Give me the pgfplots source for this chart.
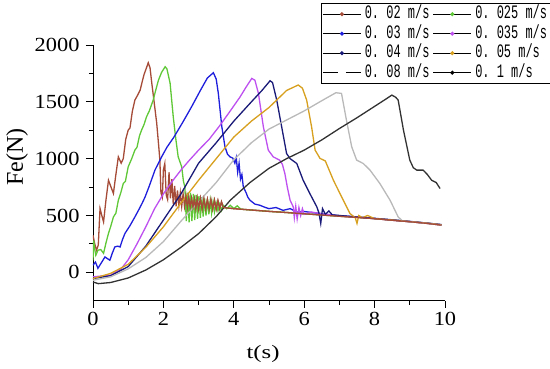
\documentclass[border=0pt]{standalone}
\usepackage{pgfplots}
\pgfplotsset{compat=1.18}
\usepackage{fontspec}
\setmainfont{Liberation Serif}
\newfontfamily\tfont{Liberation Serif}[FakeStretch=1.12]
\newfontfamily\sfontx{Liberation Serif}[FakeStretch=1.3]
\newfontfamily\lfont{Liberation Mono}[FakeStretch=0.63]
\definecolor{cA}{RGB}{165,75,55}
\definecolor{cB}{RGB}{95,200,55}
\definecolor{cC}{RGB}{30,30,220}
\definecolor{cD}{RGB}{190,80,240}
\definecolor{cE}{RGB}{25,25,120}
\definecolor{cF}{RGB}{215,160,30}
\definecolor{cG}{RGB}{185,185,185}
\definecolor{cH}{RGB}{50,50,50}
\begin{document}
\begin{tikzpicture}
\useasboundingbox (-93pt,-67.3pt) rectangle (457pt,300.7pt);
\begin{axis}[
 scale only axis, width=352pt, height=255.7pt,
 xmin=0, xmax=10, ymin=-250, ymax=2000,
 axis lines=left, axis line style={-, line width=0.8pt},
 tick align=outside,
 xtick={0,2,...,10}, minor xtick={1,3,...,9},
 ytick={0,500,...,2000}, minor ytick={250,750,...,1750},
 major tick length=7pt, minor tick length=4pt,
 tick style={black, line width=0.8pt},
 ticklabel style={font=\tfont\fontsize{20}{22}\selectfont},
 xticklabel style={yshift=-1pt},
 yticklabel style={xshift=-3pt},
 /pgf/number format/assume math mode=true,
 /pgf/number format/1000 sep={},
 xlabel={t(s)}, ylabel={Fe(N)},
 xlabel style={font=\sfontx\fontsize{19}{21}\selectfont, at={(axis description cs:0.483,0)}, anchor=center, yshift=-53pt},
 ylabel style={font=\fontsize{24}{26}\selectfont, at={(axis description cs:0,0.562)}, anchor=center, yshift=76pt},
 legend columns=2,
 legend cell align=left,
 legend style={at={(1,1)}, anchor=north east, xshift=107pt, yshift=42pt,
   font=\lfont\fontsize{19}{21}\selectfont, draw=black, line width=0.8pt,
   inner xsep=1pt, inner ysep=1pt,
   nodes={inner xsep=3.5pt, inner ysep=2.5pt, text height=12pt, text depth=2.5pt},
   /tikz/every even column/.append style={column sep=0pt}},
 every axis plot/.append style={line width=1.3pt},
]
\addplot[cA, legend image code/.code={\draw[black,line width=0.8pt] (0pt,0pt) -- (38pt,0pt); \fill[cA] (19pt,0pt) circle (1.3pt);}] coordinates {
(0,326)(0.05,250)(0.1,194)(0.15,240)(0.2,561)(0.25,500)(0.3,443)(0.37,640)(0.44,810)(0.5,760)(0.58,694)(0.65,860)(0.72,1016)(0.8,960)(0.86,1000)(0.93,1170)(1.0,1251)(1.05,1270)(1.12,1420)(1.19,1515)(1.27,1560)(1.34,1603)(1.4,1680)(1.45,1740)(1.52,1800)(1.57,1844)(1.62,1800)(1.67,1665)(1.74,1490)(1.81,1312)(1.87,1100)(1.9,987)(1.93,700)(1.97,660)(2.0,900)(2.04,957)(2.08,680)(2.12,640)(2.16,880)(2.2,650)(2.24,820)(2.28,600)(2.32,760)(2.36,580)(2.4,720)(2.44,590)(2.48,700)(2.52,580)(2.56,690)(2.6,580)(2.64,670)(2.68,570)(2.72,660)(2.76,575)(2.8,650)(2.84,575)(2.88,645)(2.92,560)(2.96,650)(3.0,560)(3.05,650)(3.1,555)(3.15,645)(3.2,555)(3.25,640)(3.3,555)(3.35,640)(3.4,555)(3.45,635)(3.5,555)(3.55,630)(3.6,560)(3.65,620)(3.7,570)(4.0,560)(4.5,548)(5.0,536)(5.5,526)(6.0,515)(6.5,504)(7.0,493)(7.5,483)(8.0,472)(8.5,458)(9.0,445)(9.5,430)(9.9,415)};
\addlegendentry{0.~02 m/s}
\addplot[cB, legend image code/.code={\draw[black,line width=0.8pt] (0pt,0pt) -- (38pt,0pt); \fill[cB] (19pt,0pt) circle (1.3pt);}] coordinates {
(0,106)(0.02,280)(0.05,200)(0.08,150)(0.14,194)(0.22,200)(0.3,167)(0.37,260)(0.44,343)(0.5,400)(0.58,487)(0.65,520)(0.72,634)(0.79,700)(0.86,781)(0.92,800)(1.0,928)(1.1,1000)(1.19,1075)(1.25,1100)(1.32,1200)(1.38,1251)(1.45,1300)(1.52,1368)(1.6,1420)(1.71,1515)(1.78,1600)(1.86,1691)(1.95,1760)(2.05,1809)(2.1,1790)(2.19,1665)(2.28,1368)(2.35,1180)(2.42,1016)(2.52,928)(2.57,800)(2.61,752)(2.65,450)(2.69,700)(2.73,440)(2.77,700)(2.81,450)(2.85,690)(2.89,460)(2.93,680)(2.97,470)(3.01,670)(3.05,480)(3.09,660)(3.13,490)(3.17,650)(3.21,500)(3.25,640)(3.29,510)(3.33,630)(3.37,520)(3.41,620)(3.45,530)(3.5,610)(3.55,540)(3.6,600)(3.65,545)(3.7,590)(3.8,560)(3.9,590)(4.0,560)(4.1,585)(4.2,555)(4.5,548)(5.0,536)(5.5,526)(6,515)(6.5,505)(7,494)(7.5,484)(8,473)(8.5,460)(9,446)(9.5,432)(9.9,418)};
\addlegendentry{0.~025 m/s}
\addplot[cC, legend image code/.code={\draw[black,line width=0.8pt] (0pt,0pt) -- (38pt,0pt); \fill[cC] (19pt,0pt) circle (1.3pt);}] coordinates {
(0,62)(0.07,90)(0.14,35)(0.25,90)(0.34,135)(0.41,120)(0.48,106)(0.55,170)(0.62,223)(0.7,230)(0.77,223)(0.84,290)(0.91,343)(1.05,410)(1.19,487)(1.3,550)(1.4,610)(1.48,663)(1.6,760)(1.76,899)(1.95,1016)(2.1,1100)(2.3,1190)(2.55,1320)(2.8,1456)(3.05,1600)(3.25,1710)(3.42,1756)(3.5,1700)(3.56,1576)(3.66,1280)(3.75,1104)(3.82,1040)(3.89,1016)(3.97,1005)(4.03,960)(4.07,1010)(4.11,880)(4.15,960)(4.19,820)(4.23,860)(4.27,752)(4.35,700)(4.4,660)(4.46,634)(4.6,600)(4.74,590)(4.9,570)(5.0,560)(5.2,570)(5.4,545)(5.6,560)(5.8,530)(6.0,535)(6.5,515)(7,498)(7.5,488)(8,475)(8.5,462)(9,448)(9.5,433)(9.9,420)};
\addlegendentry{0.~03 m/s}
\addplot[cD, legend image code/.code={\draw[black,line width=0.8pt] (0pt,0pt) -- (38pt,0pt); \fill[cD] (19pt,0pt) circle (1.3pt);}] coordinates {
(0,-40)(0.5,-25)(0.8,30)(1.0,110)(1.25,250)(1.5,400)(1.75,560)(2.0,690)(2.25,800)(2.5,900)(2.75,990)(3.0,1075)(3.3,1170)(3.6,1290)(3.9,1420)(4.18,1544)(4.35,1630)(4.51,1706)(4.6,1690)(4.7,1574)(4.84,1280)(4.98,1075)(5.12,1016)(5.3,987)(5.38,950)(5.45,870)(5.52,750)(5.6,634)(5.69,575)(5.72,480)(5.76,580)(5.8,470)(5.85,570)(5.9,500)(5.95,560)(6.0,510)(6.2,530)(6.5,515)(7,495)(7.5,485)(8,472)(8.5,458)(9,445)(9.5,430)(9.9,417)};
\addlegendentry{0.~035 m/s}
\addplot[cE, legend image code/.code={\draw[black,line width=0.8pt] (0pt,0pt) -- (38pt,0pt); \fill[cE] (19pt,0pt) circle (1.3pt);}] coordinates {
(0,-55)(0.5,-30)(1.0,50)(1.5,230)(2.0,460)(2.5,690)(3.0,960)(3.5,1140)(4.0,1330)(4.5,1500)(4.8,1600)(5.03,1685)(5.1,1670)(5.22,1515)(5.36,1280)(5.5,1045)(5.6,1000)(5.79,957)(5.97,810)(6.16,693)(6.36,575)(6.42,520)(6.47,430)(6.52,560)(6.6,510)(6.7,540)(6.8,505)(7,500)(7.5,486)(8,473)(8.5,460)(9,446)(9.5,432)(9.9,418)};
\addlegendentry{0.~04 m/s}
\addplot[cF, legend image code/.code={\draw[black,line width=0.8pt] (0pt,0pt) -- (38pt,0pt); \fill[cF] (19pt,0pt) circle (1.3pt);}] coordinates {
(0,-55)(0.5,-10)(1.0,70)(1.5,220)(2.0,400)(2.5,610)(3.0,810)(3.5,1000)(4.0,1190)(4.5,1330)(5.0,1450)(5.5,1600)(5.83,1648)(5.95,1620)(6.07,1515)(6.21,1280)(6.31,1075)(6.45,1002)(6.6,980)(6.83,810)(7.11,634)(7.3,517)(7.45,480)(7.5,430)(7.55,500)(7.65,480)(7.8,500)(8,472)(8.5,460)(9,446)(9.5,432)(9.9,418)};
\addlegendentry{0.~05 m/s}
\addplot[cG, legend image code/.code={\draw[black,line width=0.8pt] (0pt,0pt) -- (15pt,0pt) (23pt,0pt) -- (38pt,0pt);}] coordinates {
(0,-70)(0.5,-40)(1.0,30)(1.5,130)(2.0,270)(2.5,450)(3.0,620)(3.5,790)(4.0,990)(4.5,1140)(5.0,1260)(5.5,1340)(6.0,1420)(6.5,1510)(6.9,1580)(7.06,1574)(7.2,1339)(7.35,1104)(7.49,987)(7.68,957)(7.87,899)(8.15,781)(8.44,634)(8.67,487)(8.8,450)(9,445)(9.5,430)(9.9,415)};
\addlegendentry{0.~08 m/s}
\addplot[cH, legend image code/.code={\draw[black,line width=0.8pt] (0pt,0pt) -- (38pt,0pt); \fill[black] (19pt,0pt) circle (1.3pt);}] coordinates {
(0,-85)(0.15,-100)(0.5,-90)(1.0,-50)(1.5,20)(2.0,110)(2.5,220)(3.0,340)(3.5,490)(3.9,634)(4.46,790)(5.0,915)(5.5,1000)(6.0,1075)(6.5,1165)(7.0,1265)(7.5,1360)(8.0,1460)(8.3,1520)(8.49,1559)(8.6,1540)(8.67,1515)(8.82,1251)(9.0,987)(9.1,920)(9.2,899)(9.38,899)(9.5,860)(9.62,810)(9.75,790)(9.86,737)};
\addlegendentry{0.~1 m/s}
\addplot[cA, forget plot] coordinates {
(2.6,580)(2.64,670)(2.68,570)(2.72,660)(2.76,575)(2.8,650)(2.84,575)(2.88,645)(2.92,560)(2.96,650)(3.0,560)(3.05,650)(3.1,555)(3.15,645)(3.2,555)(3.25,640)(3.3,555)(3.35,640)(3.4,555)(3.45,635)(3.5,555)(3.55,630)(3.6,560)(3.65,620)(3.7,570)(4.0,560)(4.5,548)(5.0,536)(5.5,526)(6.0,515)(6.5,504)(7.0,493)(7.5,483)(8.0,472)(8.5,458)(9.0,445)(9.5,430)(9.9,415)};
\end{axis}
\end{tikzpicture}
\end{document}
